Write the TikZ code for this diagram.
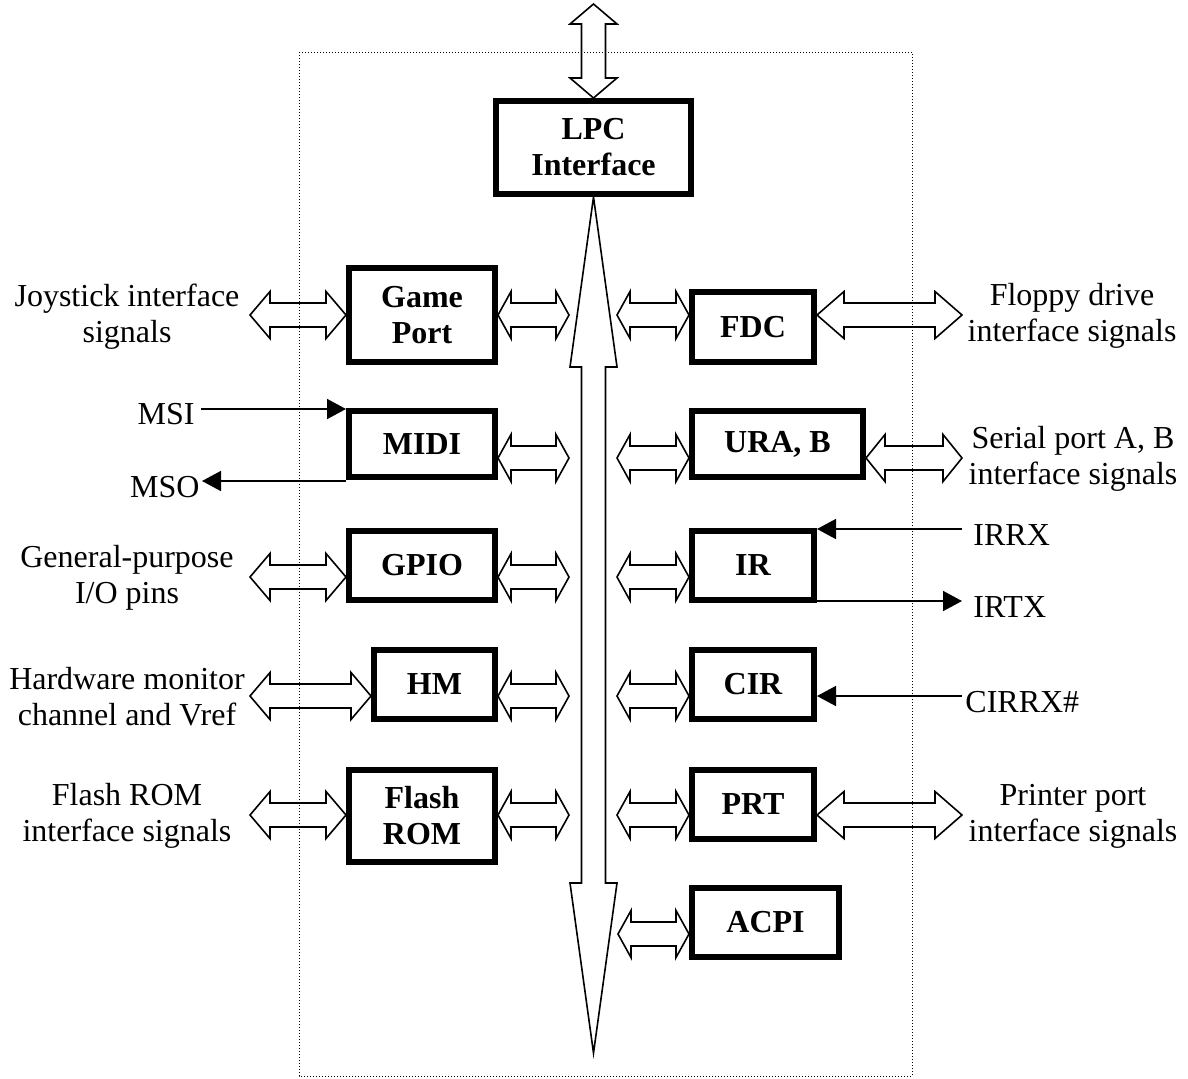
\documentclass[tikz,border=0pt]{standalone}
\usepackage{fontspec}
\setmainfont{Liberation Serif}
\usetikzlibrary{arrows.meta, calc, positioning}

\newcommand{\fathead}{11.75pt}
\newcommand{\fatshaft}{6pt}
% hollow two-headed arrow, #1 = head length
\newcommand{\fatarrow}[3][10pt]{%
  \draw[hollow] (#2)
    -- ($(#2)!#1!(#3)!\fathead!90:(#3)$)
    -- ($(#2)!#1!(#3)!\fatshaft!90:(#3)$)
    -- ($(#3)!#1!(#2)!\fatshaft!-90:(#2)$)
    -- ($(#3)!#1!(#2)!\fathead!-90:(#2)$)
    -- (#3)
    -- ($(#3)!#1!(#2)!\fathead!90:(#2)$)
    -- ($(#3)!#1!(#2)!\fatshaft!90:(#2)$)
    -- ($(#2)!#1!(#3)!\fatshaft!-90:(#3)$)
    -- ($(#2)!#1!(#3)!\fathead!-90:(#3)$)
    -- cycle;}

\tikzset{
  box/.style={draw, line width=3pt, inner sep=0pt, align=center,
    font=\fontsize{16}{18}\selectfont\bfseries},
  sigtxt/.style={inner sep=0pt, align=center, font=\fontsize{16}{18}\selectfont},
  hollow/.style={draw, line width=0.8pt, line join=miter},
  sig/.style={-{Triangle[length=9.5pt, width=10pt]}, line width=0.8pt},
  frame/.style={line width=0.5pt, dash pattern=on 0.5pt off 1pt}
}

\begin{document}
\begin{tikzpicture}[x=0.5pt, y=-0.5pt]
  \useasboundingbox (0,0) rectangle (1188,1078);
  \draw[frame] (299,52) rectangle (912,1076);

  % modules
  \node[box, minimum width=97.5pt, minimum height=46.5pt] (lpc) at (593.5,147.5) {LPC\\Interface};
  \node[box, minimum width=73pt, minimum height=47pt] (game) at (422,315) {Game\\Port};
  \node[box, minimum width=73pt, minimum height=33pt] (midi) at (422,444) {MIDI};
  \node[box, minimum width=73pt, minimum height=34.5pt] (gpio) at (422,565.5) {GPIO};
  \node[box, minimum width=60.5pt, minimum height=34.5pt] (hm) at (434.5,684.5) {HM};
  \node[box, minimum width=73pt, minimum height=46pt] (flash) at (422,816) {Flash\\ROM};
  \node[box, minimum width=61pt, minimum height=35pt] (fdc) at (753,327) {FDC};
  \node[box, minimum width=85.5pt, minimum height=33pt] (ura) at (777.5,444) {URA, B};
  \node[box, minimum width=61pt, minimum height=34.5pt] (ir) at (753,565.5) {IR};
  \node[box, minimum width=61pt, minimum height=34.5pt] (cir) at (753,684.5) {CIR};
  \node[box, minimum width=61pt, minimum height=34.5pt] (prt) at (753,804.5) {PRT};
  \node[box, minimum width=73.5pt, minimum height=34.5pt] (acpi) at (765.5,922.5) {ACPI};

  % outside signals
  \node[sigtxt] (joytxt) at (127,317) {Joystick interface\\signals};
  \node[sigtxt, anchor=base east] (msitxt) at (195,424) {MSI};
  \node[sigtxt, anchor=base east] (msotxt) at (200,497) {MSO};
  \node[sigtxt] (gpiotxt) at (127,578) {General-purpose\\I/O pins};
  \node[sigtxt] (hmtxt) at (127,697) {Hardware monitor\\channel and Vref};
  \node[sigtxt] (flashtxt) at (127,816) {Flash ROM\\interface signals};
  \node[sigtxt] (fdctxt) at (1072,316) {Floppy drive\\interface signals};
  \node[sigtxt] (uratxt) at (1073,459) {Serial port A, B\\interface signals};
  \node[sigtxt, anchor=base west] (irrxtxt) at (973,545) {IRRX};
  \node[sigtxt, anchor=base west] (irtxtxt) at (973,617) {IRTX};
  \node[sigtxt, anchor=base west] (cirtxt) at (965,712) {CIRRX\#};
  \node[sigtxt] (prttxt) at (1073,816) {Printer port\\interface signals};

  \coordinate (host) at (593.5,4);
  \coordinate (bustip) at (593.5,1053);
  \coordinate (joy) at (250,315);
  \coordinate (gpo) at (250,577);
  \coordinate (hmo) at (250,696);
  \coordinate (flo) at (250,815);
  \coordinate (fdo) at (962,315);
  \coordinate (uro) at (962,458);
  \coordinate (pro) at (962,815);
  \coordinate (bl1) at (569,315);
  \coordinate (bl2) at (569,458);
  \coordinate (bl3) at (569,577);
  \coordinate (bl4) at (569,696);
  \coordinate (bl5) at (569,815);
  \coordinate (br1) at (617,315);
  \coordinate (br2) at (617,458);
  \coordinate (br3) at (617,577);
  \coordinate (br4) at (617,696);
  \coordinate (br5) at (617,815);
  \coordinate (br6) at (618,934);
  \coordinate (msiend) at (201,409);
  \coordinate (msoend) at (202,481);
  \coordinate (irrxend) at (962,529);
  \coordinate (irtxend) at (962,601);
  \coordinate (cirend) at (962,696);

  % LPC bus
  \fatarrow{host}{lpc.north}
  \fatarrow[85pt]{lpc.south}{bustip}

  \fatarrow{joy}{joy -| game.west}
  \fatarrow[6.5pt]{game.east |- bl1}{bl1}
  \fatarrow[6.5pt]{midi.east |- bl2}{bl2}
  \fatarrow{gpo}{gpo -| gpio.west}
  \fatarrow[6.5pt]{gpio.east |- bl3}{bl3}
  \fatarrow{hmo}{hmo -| hm.west}
  \fatarrow[6.5pt]{hm.east |- bl4}{bl4}
  \fatarrow{flo}{flo -| flash.west}
  \fatarrow[6.5pt]{flash.east |- bl5}{bl5}

  \fatarrow[6.5pt]{br1}{br1 -| fdc.west}
  \fatarrow[13.5pt]{fdc.east |- fdo}{fdo}
  \fatarrow[6.5pt]{br2}{br2 -| ura.west}
  \fatarrow[9.5pt]{ura.east |- uro}{uro}
  \fatarrow[6.5pt]{br3}{br3 -| ir.west}
  \fatarrow[6.5pt]{br4}{br4 -| cir.west}
  \fatarrow[6.5pt]{br5}{br5 -| prt.west}
  \fatarrow[13.5pt]{prt.east |- pro}{pro}
  \fatarrow[6.5pt]{br6}{br6 -| acpi.west}

  % single signals
  \draw[sig] (msiend) -- (msiend -| midi.west);
  \draw[sig] (midi.west |- msoend) -- (msoend);
  \draw[sig] (irrxend) -- (irrxend -| ir.east);
  \draw[sig] (ir.east |- irtxend) -- (irtxend);
  \draw[sig] (cirend) -- (cirend -| cir.east);
\end{tikzpicture}
\end{document}
